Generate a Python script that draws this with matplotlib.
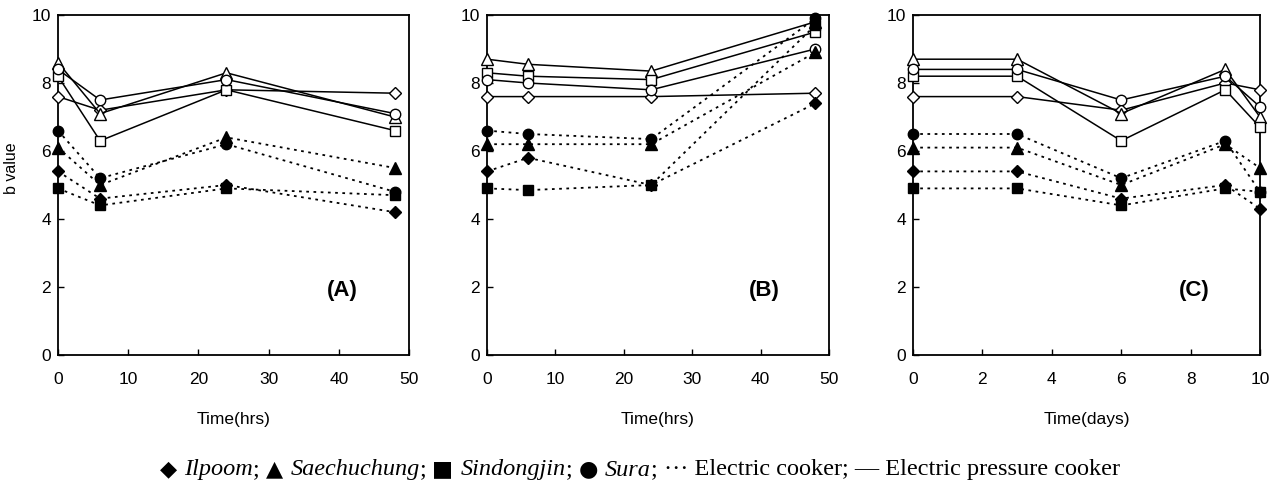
import matplotlib
matplotlib.use("Agg")
import matplotlib.pyplot as plt
from matplotlib.offsetbox import TextArea, HPacker, AnchoredOffsetbox

# ---------------- data ----------------
varieties = ["Ilpoom", "Saechuchung", "Sindongjin", "Sura"]
markers = {"Ilpoom": "D", "Saechuchung": "^", "Sindongjin": "s", "Sura": "o"}

time_A = [0, 6, 24, 48]
time_B = [0, 6, 24, 48]
time_C = [0, 3, 6, 9, 10]

# Panel A - electric pressure cooker (open, solid)
A_pressure_Ilpoom = [7.6, 7.2, 7.8, 7.7]
A_pressure_Saechuchung = [8.6, 7.1, 8.3, 7.0]
A_pressure_Sindongjin = [8.2, 6.3, 7.8, 6.6]
A_pressure_Sura = [8.4, 7.5, 8.1, 7.1]
# Panel A - electric cooker (filled, dotted)
A_electric_Ilpoom = [5.4, 4.6, 5.0, 4.2]
A_electric_Saechuchung = [6.1, 5.0, 6.4, 5.5]
A_electric_Sindongjin = [4.9, 4.4, 4.9, 4.7]
A_electric_Sura = [6.6, 5.2, 6.2, 4.8]

# Panel B
B_pressure_Ilpoom = [7.6, 7.6, 7.6, 7.7]
B_pressure_Saechuchung = [8.7, 8.55, 8.35, 9.8]
B_pressure_Sindongjin = [8.3, 8.2, 8.1, 9.5]
B_pressure_Sura = [8.1, 8.0, 7.8, 9.0]
B_electric_Ilpoom = [5.4, 5.8, 5.0, 7.4]
B_electric_Saechuchung = [6.2, 6.2, 6.2, 8.9]
B_electric_Sindongjin = [4.9, 4.85, 5.0, 9.7]
B_electric_Sura = [6.6, 6.5, 6.35, 9.9]

# Panel C
C_pressure_Ilpoom = [7.6, 7.6, 7.2, 8.0, 7.8]
C_pressure_Saechuchung = [8.7, 8.7, 7.1, 8.4, 7.0]
C_pressure_Sindongjin = [8.2, 8.2, 6.3, 7.8, 6.7]
C_pressure_Sura = [8.4, 8.4, 7.5, 8.2, 7.3]
C_electric_Ilpoom = [5.4, 5.4, 4.6, 5.0, 4.3]
C_electric_Saechuchung = [6.1, 6.1, 5.0, 6.2, 5.5]
C_electric_Sindongjin = [4.9, 4.9, 4.4, 4.9, 4.8]
C_electric_Sura = [6.5, 6.5, 5.2, 6.3, 4.8]

panels = [
    ("(A)", time_A, (0, 50), [0, 10, 20, 30, 40, 50], "Time(hrs)",
     {"Ilpoom": A_pressure_Ilpoom, "Saechuchung": A_pressure_Saechuchung,
      "Sindongjin": A_pressure_Sindongjin, "Sura": A_pressure_Sura},
     {"Ilpoom": A_electric_Ilpoom, "Saechuchung": A_electric_Saechuchung,
      "Sindongjin": A_electric_Sindongjin, "Sura": A_electric_Sura}),
    ("(B)", time_B, (0, 50), [0, 10, 20, 30, 40, 50], "Time(hrs)",
     {"Ilpoom": B_pressure_Ilpoom, "Saechuchung": B_pressure_Saechuchung,
      "Sindongjin": B_pressure_Sindongjin, "Sura": B_pressure_Sura},
     {"Ilpoom": B_electric_Ilpoom, "Saechuchung": B_electric_Saechuchung,
      "Sindongjin": B_electric_Sindongjin, "Sura": B_electric_Sura}),
    ("(C)", time_C, (0, 10), [0, 2, 4, 6, 8, 10], "Time(days)",
     {"Ilpoom": C_pressure_Ilpoom, "Saechuchung": C_pressure_Saechuchung,
      "Sindongjin": C_pressure_Sindongjin, "Sura": C_pressure_Sura},
     {"Ilpoom": C_electric_Ilpoom, "Saechuchung": C_electric_Saechuchung,
      "Sindongjin": C_electric_Sindongjin, "Sura": C_electric_Sura}),
]

yticks = [0, 2, 4, 6, 8, 10]

# ---------------- figure ----------------
plt.rcParams["font.family"] = ["Liberation Sans", "DejaVu Sans"]
fig = plt.figure(figsize=(12.8, 4.88), dpi=100)

positions = [
    [58 / 1280, 1 - 355 / 488, 351 / 1280, 340 / 488],
    [487 / 1280, 1 - 355 / 488, 342 / 1280, 340 / 488],
    [913 / 1280, 1 - 355 / 488, 347 / 1280, 340 / 488],
]

msize = {"D": 6.5, "^": 8, "s": 7.5, "o": 7.5}

for i, (label, t, xlim, xticks, xlabel, pres, elec) in enumerate(panels):
    ax = fig.add_axes(positions[i])
    for v in varieties:
        m = markers[v]
        ax.plot(t, pres[v], color="black", lw=1.1, ls="-", marker=m,
                ms=msize[m], mfc="white", mec="black", mew=1.0,
                clip_on=False, zorder=3)
    for v in varieties:
        m = markers[v]
        ax.plot(t, elec[v], color="black", lw=1.3, ls=(0, (1.5, 2.5)),
                marker=m, ms=msize[m], mfc="black", mec="black",
                clip_on=False, zorder=4)
    ax.set_xlim(*xlim)
    ax.set_ylim(0, 10)
    ax.set_xticks(xticks)
    ax.set_yticks(yticks)
    ax.tick_params(axis="both", direction="in", length=4, width=1,
                   labelsize=12.5)
    ax.tick_params(axis="x", pad=12)
    ax.tick_params(axis="y", pad=5)
    for s in ax.spines.values():
        s.set_linewidth(1.3)
    ax.set_xlabel(xlabel, fontsize=12.5, labelpad=18)
    if i == 0:
        ax.set_ylabel("b value", fontsize=11.5)
        ax.yaxis.set_label_coords(-0.112, 0.55)
    ax.text(0.81, 0.19, label, transform=ax.transAxes,
            fontsize=16, fontweight="bold", ha="center", va="center")

# ---------------- bottom legend line ----------------
serif = ["Liberation Serif", "DejaVu Serif"]
sym = ["DejaVu Sans"]
fs = 17.5
ss = 16
parts = [
    ("\u25C6 ", sym, "normal", ss), ("Ilpoom", serif, "italic", fs), ("; ", serif, "normal", fs),
    ("\u25B2 ", sym, "normal", ss), ("Saechuchung", serif, "italic", fs), ("; ", serif, "normal", fs),
    ("\u25A0 ", sym, "normal", ss), ("Sindongjin", serif, "italic", fs), ("; ", serif, "normal", fs),
    ("\u25CF ", sym, "normal", ss), ("Sura", serif, "italic", fs), ("; ", serif, "normal", fs),
    ("\u00B7\u00B7\u00B7 Electric cooker; \u2014 Electric pressure cooker", serif, "normal", fs),
]
children = [TextArea(txt, textprops=dict(family=fam, style=st, fontsize=sz, color="black"))
            for txt, fam, st, sz in parts]
box = HPacker(children=children, align="baseline", pad=0, sep=0)
anchored = AnchoredOffsetbox(loc="center", child=box, frameon=False,
                             bbox_to_anchor=(0.5, 1 - 470 / 488),
                             bbox_transform=fig.transFigure, borderpad=0)
fig.add_artist(anchored)

fig.savefig("out.png", dpi=100)
